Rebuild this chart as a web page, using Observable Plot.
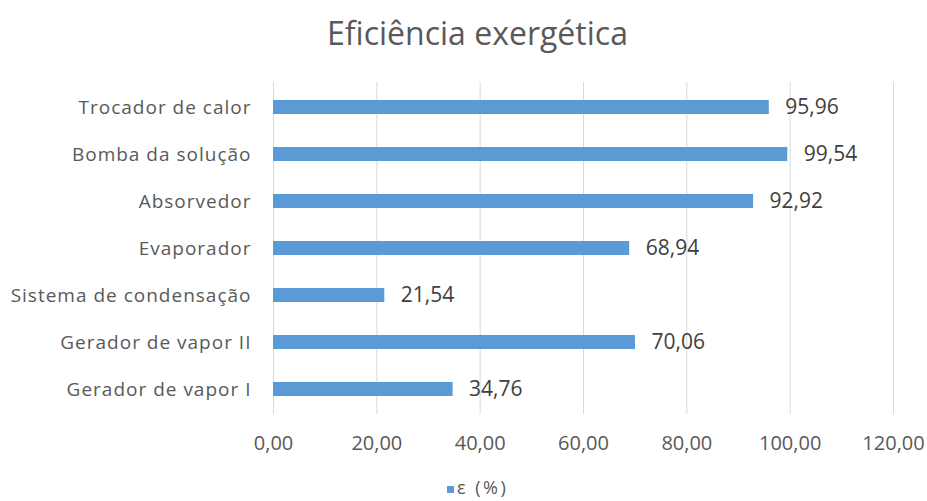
<!DOCTYPE html>
<html>
<head>
<meta charset="utf-8">
<script src="https://cdn.jsdelivr.net/npm/d3@7"></script>
<script src="https://cdn.jsdelivr.net/npm/@observablehq/plot@0.6"></script>
<style>
  body { margin: 0; background: #fff; font-family: "Open Sans", sans-serif; }
  #wrap { width: 927px; height: 501px; position: relative; overflow: hidden; }
  #title { height: 66px; line-height: 66px; text-align: center; font-size: 32px; color: #595959; padding-left: 28px; }
  #legend { position: absolute; top: 476px; left: 447px; height: 22px; line-height: 22px; font-size: 18px; color: #595959; letter-spacing: 2.5px; white-space: nowrap; }
  #legend .sw { display: inline-block; width: 7px; height: 7px; background: #5b9bd5; margin-right: 3px; vertical-align: 1px; }
  g[aria-label="y-axis tick label"] text { letter-spacing: 1px; }
</style>
</head>
<body>
<div id="wrap">
  <div id="title">Eficiência exergética</div>
  <div id="chart"></div>
  <div id="legend"><span class="sw"></span>ε (%)</div>
</div>
<script>
const categories = ["Trocador de calor", "Bomba da solução", "Absorvedor", "Evaporador", "Sistema de condensação", "Gerador de vapor II", "Gerador de vapor I"];
const values = [95.96, 99.54, 92.92, 68.94, 21.54, 70.06, 34.76];
const xTicks = [0, 20, 40, 60, 80, 100, 120];
const seriesName = "ε (%)";

const data = categories.map((c, i) => ({category: c, value: values[i]}));
const fmt = v => v.toFixed(2).replace(".", ",");

const chart = Plot.plot({
  width: 927,
  height: 404,
  marginTop: 16,
  marginBottom: 56,
  marginLeft: 273,
  marginRight: 34,
  style: {fontFamily: "'Open Sans', sans-serif", fontSize: "15px", color: "#595959", background: "#fff"},
  x: {domain: [0, 120], ticks: xTicks, tickFormat: fmt, label: null},
  y: {domain: categories, paddingInner: 0.7, paddingOuter: 0.35, label: null},
  marks: [
    Plot.gridX(xTicks, {stroke: "#d9d9d9", strokeOpacity: 1, strokeWidth: 1}),
    Plot.axisX({ticks: xTicks, tickFormat: fmt, tickSize: 0, tickPadding: 21, label: null, fontSize: 20, fill: "#595959"}),
    Plot.axisY({tickSize: 0, tickPadding: 22, label: null, fontSize: 19, fill: "#595959"}),
    Plot.barX(data, {x: "value", y: "category", fill: "#5b9bd5"}),
    Plot.text(data, {x: "value", y: "category", text: d => fmt(d.value), textAnchor: "start", dx: 16, fontSize: 21, fill: "#404040"})
  ]
});
document.getElementById("chart").appendChild(chart);
</script>
</body>
</html>
